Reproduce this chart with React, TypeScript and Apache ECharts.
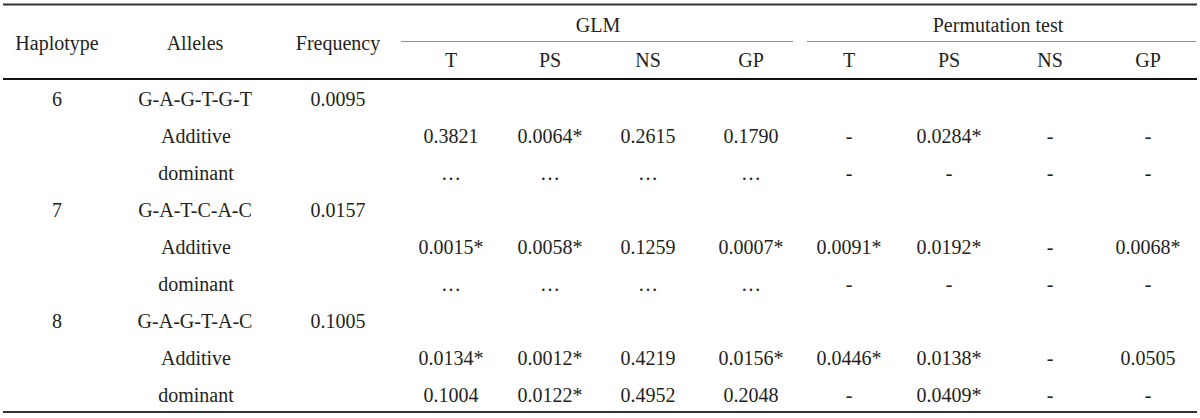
import React, { useEffect, useRef } from "react";
import * as echarts from "echarts";

// ---- data ----
const groupHeaders = ["GLM", "Permutation test"];
const subHeaders = ["T", "PS", "NS", "GP"];
const leftHeaders = ["Haplotype", "Alleles", "Frequency"];
const haplotypes = ["6", "7", "8"];
const alleles = ["G-A-G-T-G-T", "G-A-T-C-A-C", "G-A-G-T-A-C"];
const frequencies = ["0.0095", "0.0157", "0.1005"];
const models = ["Additive", "dominant"];
const glmT = ["0.3821", "…", "0.0015*", "…", "0.0134*", "0.1004"];
const glmPS = ["0.0064*", "…", "0.0058*", "…", "0.0012*", "0.0122*"];
const glmNS = ["0.2615", "…", "0.1259", "…", "0.4219", "0.4952"];
const glmGP = ["0.1790", "…", "0.0007*", "…", "0.0156*", "0.2048"];
const permT = ["-", "-", "0.0091*", "-", "0.0446*", "-"];
const permPS = ["0.0284*", "-", "0.0192*", "-", "0.0138*", "0.0409*"];
const permNS = ["-", "-", "-", "-", "-", "-"];
const permGP = ["-", "-", "0.0068*", "-", "0.0505", "-"];

// ---- layout ----
const W = 1200;
const H = 418;
const FONT = "Liberation Serif";
const FS = 20;
const TXT = "#231f20";
const leftX = [57, 195, 338];
const valueX = [451, 550, 648, 751, 849, 949, 1050, 1148];
const groupX = [598, 998];
const groupLine = [
  [401, 793],
  [807, 1196],
];
const row0Y = 99;
const rowStep = 37;

function text(x: number, y: number, s: string) {
  return {
    type: "text",
    x,
    y,
    silent: true,
    style: {
      text: s,
      x: 0,
      y: 0,
      align: "center",
      verticalAlign: "middle",
      fontFamily: FONT,
      fontSize: FS,
      fill: TXT,
    },
  };
}

function hline(x1: number, x2: number, y: number, w: number, c: string) {
  return {
    type: "line",
    silent: true,
    shape: { x1, y1: y, x2, y2: y },
    style: { stroke: c, lineWidth: w },
  };
}

export default function App() {
  const ref = useRef<HTMLDivElement>(null);
  useEffect(() => {
    if (!ref.current) return;
    const chart = echarts.init(ref.current, null, { renderer: "svg" });
    const els: any[] = [];
    // lines
    els.push(hline(3, 1197, 4.5, 2, "#333"));
    groupLine.forEach(([a, b]) => els.push(hline(a, b, 41.5, 1, "#8a8a8a")));
    els.push(hline(3, 1197, 79, 2.2, "#111"));
    els.push(hline(3, 1197, 412, 2, "#333"));
    // headers
    leftHeaders.forEach((h, i) => els.push(text(leftX[i], 43, h)));
    groupHeaders.forEach((h, i) => els.push(text(groupX[i], 25, h)));
    [0, 1].forEach((g) =>
      subHeaders.forEach((h, j) => els.push(text(valueX[g * 4 + j], 60, h)))
    );
    // body
    const cols = [glmT, glmPS, glmNS, glmGP, permT, permPS, permNS, permGP];
    haplotypes.forEach((hp, i) => {
      const y = row0Y + rowStep * 3 * i;
      els.push(text(leftX[0], y, hp));
      els.push(text(leftX[1], y, alleles[i]));
      els.push(text(leftX[2], y, frequencies[i]));
      models.forEach((m, k) => {
        const yy = y + rowStep * (k + 1);
        els.push(text(leftX[1] + 1, yy, m));
        cols.forEach((col, c) => els.push(text(valueX[c], yy, col[i * 2 + k])));
      });
    });
    chart.setOption({
      animation: false,
      backgroundColor: "#fff",
      graphic: { elements: els },
    });
    return () => chart.dispose();
  }, []);
  return (
    <div
      ref={ref}
      style={{ position: "fixed", left: 0, top: 0, width: W, height: H }}
    />
  );
}
